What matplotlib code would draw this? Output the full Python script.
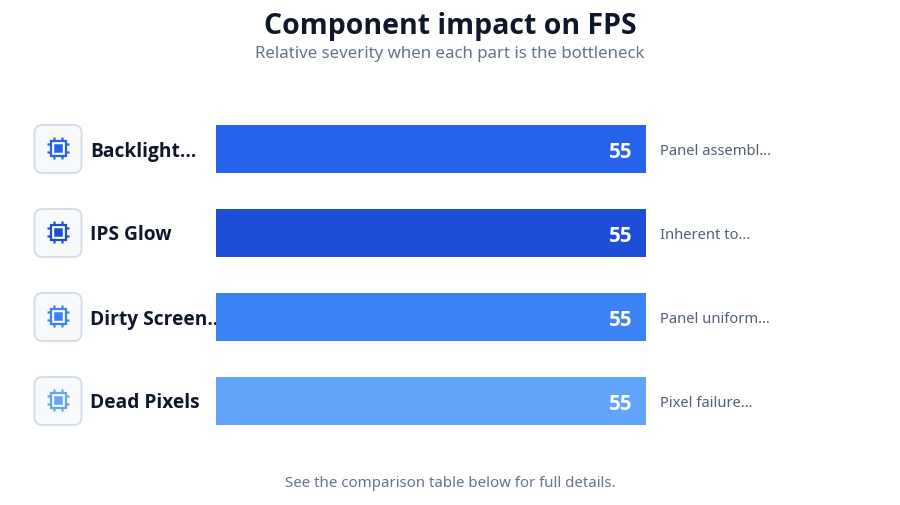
import matplotlib
matplotlib.use("Agg")
import matplotlib.pyplot as plt
from matplotlib.patches import FancyBboxPatch, Rectangle

plt.rcParams['font.family'] = ['Noto Sans', 'DejaVu Sans']
BOLD_FONT = ['Open Sans', 'DejaVu Sans']

TITLE = "Component impact on FPS"
SUBTITLE = "Relative severity when each part is the bottleneck"
FOOTER = "See the comparison table below for full details."

names = ["Backlight...", "IPS Glow", "Dirty Screen...", "Dead Pixels"]
values = [55, 55, 55, 55]
notes = ["Panel assembl...", "Inherent to...", "Panel uniform...", "Pixel failure..."]
colors = ["#2563eb", "#1d4ed8", "#3b82f6", "#60a5fa"]

W, H = 900, 506


def draw_chip(ax, cx, cy, color):
    # square body with a filled core and two pins per side
    ax.add_patch(Rectangle((cx - 7.5, cy - 7.5), 15, 15, fc="none", ec=color, lw=1.6, snap=False))
    ax.add_patch(Rectangle((cx - 4.25, cy - 4.25), 8.5, 8.5, fc=color, ec="none", snap=False))
    for off in (-4, 4):
        ax.plot([cx + off, cx + off], [cy - 11, cy - 8], color=color, lw=1.6, solid_capstyle="butt", snap=False)
        ax.plot([cx + off, cx + off], [cy + 8, cy + 11], color=color, lw=1.6, solid_capstyle="butt", snap=False)
        ax.plot([cx - 11, cx - 8], [cy + off, cy + off], color=color, lw=1.6, solid_capstyle="butt", snap=False)
        ax.plot([cx + 8, cx + 11], [cy + off, cy + off], color=color, lw=1.6, solid_capstyle="butt", snap=False)


fig = plt.figure(figsize=(W / 100, H / 100), dpi=100, facecolor="white")

# overlay in pixel units for the cards and free text
bg = fig.add_axes([0, 0, 1, 1])
bg.set_xlim(0, W)
bg.set_ylim(H, 0)
bg.axis("off")

# bars: four rows of 84px, full width is the value 55
ax = fig.add_axes([216 / W, 1 - 444 / H, 430 / W, 336 / H])
ax.patch.set_alpha(0)
rows = list(range(len(names)))
ax.barh(rows, values, height=48 / 84, color=colors)
ax.set_xlim(0, 55)
ax.set_ylim(3.5, -0.5)
ax.axis("off")

for i, row in enumerate(rows):
    cy = 150 + 84 * row
    bg.add_patch(FancyBboxPatch((34.5 + 8, cy - 24 + 8), 47 - 16, 48 - 16,
                                boxstyle="round,pad=8", fc="#f8fafc", ec="#d5dfea", lw=1.5))
    draw_chip(bg, 58.5, cy - 0.5, colors[i])
    bg.text(90, cy - 1, names[i], fontsize=13.8, fontweight="bold", family=BOLD_FONT, color="#0f172a",
            ha="left", va="center_baseline", zorder=5)
    ax.annotate(str(values[i]), (values[i], row), xytext=(-10, 0), textcoords="offset points",
                fontsize=14.8, fontweight="bold", family=BOLD_FONT, color="white", ha="right", va="center_baseline")
    ax.annotate(notes[i], (values[i], row), xytext=(10, 0), textcoords="offset points",
                fontsize=10.6, color="#526077", ha="left", va="center_baseline")

bg.text(450, 26, TITLE, fontsize=20.5, fontweight="bold", family=BOLD_FONT, color="#0f172a", ha="center", va="center")
bg.text(450, 54, SUBTITLE, fontsize=12.15, color="#64748b", ha="center", va="center")
bg.text(450, 484, FOOTER, fontsize=10.8, color="#64748b", ha="center", va="center")

fig.savefig("out.png", dpi=100)
